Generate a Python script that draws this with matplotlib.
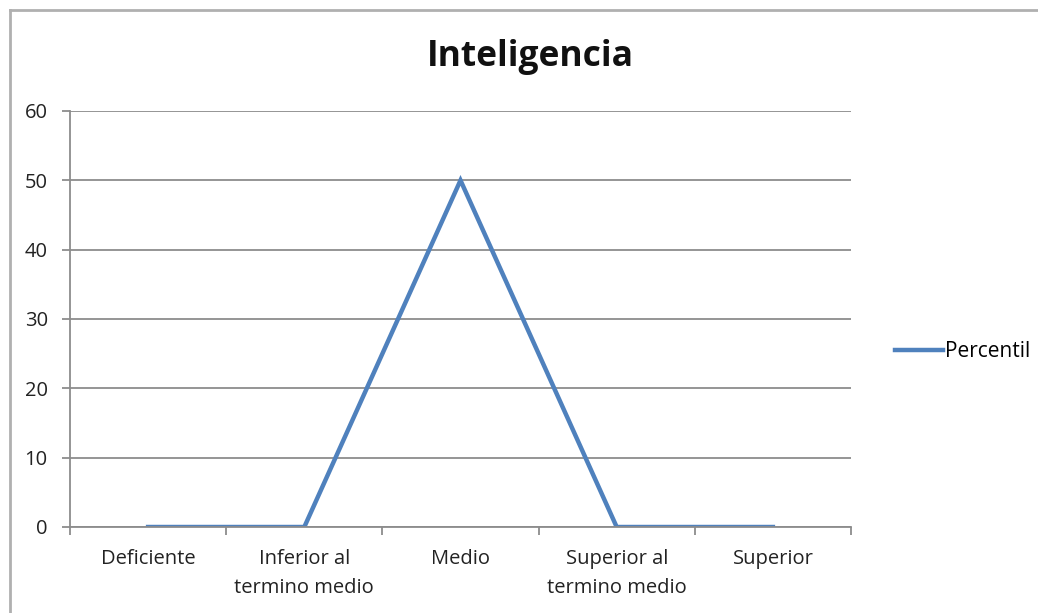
import matplotlib.pyplot as plt
from matplotlib.lines import Line2D

categories = ["Deficiente", "Inferior al\ntermino medio", "Medio",
              "Superior al\ntermino medio", "Superior"]
percentil = [0, 0, 50, 0, 0]
y_ticks = [0, 10, 20, 30, 40, 50, 60]

plt.rcParams['font.family'] = ['Open Sans', 'DejaVu Sans']
grid_col = '#8c8c8c'

fig = plt.figure(figsize=[10.38, 6.13], dpi=100)
ax = fig.add_axes([70/1038, 1-527/613, (851-70)/1038, (527-111)/613])

x = list(range(len(categories)))
ax.plot(x, percentil, color='#4f81bd', lw=3.2, label='Percentil', solid_joinstyle='miter')

ax.set_xlim(-0.5, len(categories)-0.5)
ax.set_ylim(0, 60)
ax.set_yticks(y_ticks)
ax.yaxis.grid(True, color=grid_col, lw=1.3)
ax.set_axisbelow(True)

# category labels centered, ticks on the boundaries
ax.set_xticks(x)
ax.set_xticklabels(categories, fontsize=14.5, color='#222222', linespacing=1.6)
ax.tick_params(axis='x', length=0, pad=16)
ax.set_xticks([i - 0.5 for i in range(len(categories)+1)], minor=True)
ax.tick_params(axis='x', which='minor', length=6, width=1.3, color=grid_col)
ax.tick_params(axis='y', length=6, width=1.3, color=grid_col, labelsize=14.5,
               labelcolor='#222222', pad=10)

for s in ['top', 'right']:
    ax.spines[s].set_visible(False)
for s in ['left', 'bottom']:
    ax.spines[s].set_color(grid_col)
    ax.spines[s].set_linewidth(1.3)

fig.text(530/1038, 1-57/613, "Inteligencia", ha='center', va='center',
         fontsize=25.5, fontweight='bold', color='#111111')

fig.legend(loc='center left', bbox_to_anchor=(876/1038, 1-352/613), frameon=False,
           fontsize=15, handlelength=2.3, handletextpad=0.1)

# outer chart border
fig.add_artist(Line2D([10/1038, 10/1038], [0, 1-10/613], color='#b0b0b0', lw=2))
fig.add_artist(Line2D([10/1038, 1], [1-10/613, 1-10/613], color='#b0b0b0', lw=2))

fig.savefig('out.png', dpi=100)
